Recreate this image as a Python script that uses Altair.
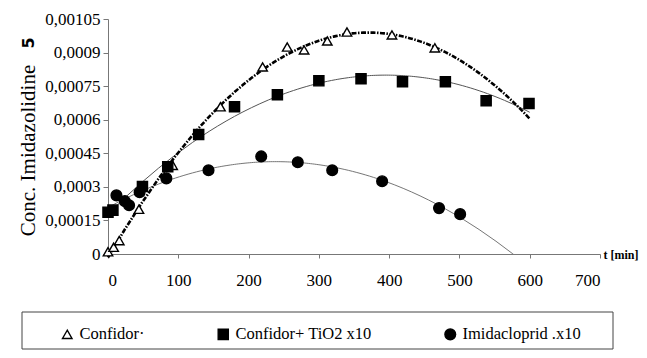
import altair as alt
import pandas as pd

# ---- data ----
series_names = ["Confidor·", "Confidor+ TiO2 x10", "Imidacloprid .x10"]

confidor_t = [0, 8, 16, 44, 92, 160, 220, 255, 279, 312, 340, 404, 465]
confidor_c = [0.00001, 0.00003, 0.00006, 0.0002, 0.000396, 0.000658, 0.000836,
              0.000925, 0.000912, 0.000952, 0.000992, 0.000979, 0.000921]

tio2_t = [0, 7, 49, 85, 129, 180, 241, 300, 360, 419, 480, 538, 599]
tio2_c = [0.000187, 0.000196, 0.000302, 0.00039, 0.000534, 0.000658, 0.000712,
          0.000774, 0.000783, 0.00077, 0.00077, 0.000685, 0.000672]

imid_t = [12, 24, 30, 45, 83, 143, 218, 270, 319, 390, 471, 501]
imid_c = [0.000262, 0.000236, 0.000218, 0.000276, 0.000338, 0.000374, 0.000436,
          0.00041, 0.000374, 0.000325, 0.000205, 0.000178]

y_ticks = [0, 0.00015, 0.0003, 0.00045, 0.0006, 0.00075, 0.0009, 0.00105]
x_ticks = [0, 100, 200, 300, 400, 500, 600, 700]

rows = []
for name, ts, cs in zip(series_names, [confidor_t, tio2_t, imid_t], [confidor_c, tio2_c, imid_c]):
    for t, c in zip(ts, cs):
        rows.append({"series": name, "t": t, "c": c})
df = pd.DataFrame(rows)

FONT = "Times New Roman, Liberation Serif, serif"
W, H = 492, 235

xscale = alt.Scale(domain=[0, 700], nice=False)
yscale = alt.Scale(domain=[0, 0.00105], nice=False)

x_axis = alt.Axis(
    values=x_ticks, title="t [min]", grid=False, domainColor="#777", tickColor="#777",
    tickSize=4, labelPadding=14, labelFont=FONT, labelFontSize=17, labelColor="black",
    labelOverlap=False,
    titleFont=FONT, titleFontSize=12, titleFontWeight="bold", titleColor="black",
    titleX=W + 3, titleY=0, titleAlign="left", titleBaseline="middle", titleAngle=0)
y_axis = alt.Axis(
    values=y_ticks, title="Conc. Imidazolidine", grid=False, domainColor="#777",
    tickColor="#777", tickSize=5, labelPadding=3, labelFont=FONT, labelFontSize=17,
    labelColor="black", labelOverlap=False,
    labelExpr="replace(toString(datum.value), '.', ',')",
    titleFont=FONT, titleFontSize=21, titleFontWeight="normal", titleColor="black",
    titleX=-80, titleY=131, titleAngle=-90, titleAlign="center", titleBaseline="middle")

x_enc = alt.X("t:Q", scale=xscale, axis=x_axis)
y_enc = alt.Y("c:Q", scale=yscale, axis=y_axis)

base = alt.Chart(df)


def trend(name, color, width, dash, clip=False):
    mark_kwargs = dict(color=color, strokeWidth=width, clip=clip)
    if dash:
        mark_kwargs["strokeDash"] = dash
    return base.transform_filter(alt.datum.series == name).transform_regression(
        "t", "c", method="poly", order=2, extent=[0, 600]
    ).mark_line(**mark_kwargs).encode(x=x_enc, y=y_enc)


line_conf = trend(series_names[0], "black", 2.6, [5, 1.5, 1.5, 1.5])
line_tio2 = trend(series_names[1], "#555", 1.0, None)
line_imid = trend(series_names[2], "#666", 0.9, None, clip=True)

leg = alt.Legend(title=None, orient="none", legendX=-49, legendY=307,
                 direction="horizontal", columnPadding=70,
                 labelFont=FONT, labelFontSize=16.5, labelColor="black", labelOffset=4)

points = base.mark_point(filled=True, strokeWidth=1.4, opacity=1).encode(
    x=x_enc, y=y_enc,
    shape=alt.Shape("series:N", scale=alt.Scale(domain=series_names,
                    range=["triangle-up", "square", "circle"]), legend=leg),
    fill=alt.Fill("series:N", scale=alt.Scale(domain=series_names,
                  range=["white", "black", "black"]), legend=leg),
    stroke=alt.Stroke("series:N", scale=alt.Scale(domain=series_names,
                      range=["black", "black", "black"]), legend=leg),
    size=alt.Size("series:N", scale=alt.Scale(domain=series_names, range=[90, 115, 115]),
                  legend=leg),
)

five = alt.Chart(pd.DataFrame({"lab": ["5"]})).mark_text(
    font="DejaVu Sans", fontSize=16, fontWeight="bold", angle=270, color="black",
    baseline="middle", align="center").encode(
    text="lab:N", x=alt.value(-79), y=alt.value(24))

box = alt.Chart(pd.DataFrame({"k": [0]})).mark_rect(
    fill="transparent", stroke="#444", strokeWidth=1).encode(
    x=alt.value(-86), x2=alt.value(505), y=alt.value(293), y2=alt.value(330))

chart = alt.layer(line_imid, line_tio2, line_conf, points, five, box).properties(
    width=W, height=H,
    autosize=alt.AutoSizeParams(type="none"),
    padding={"left": 100, "top": 11, "right": 39, "bottom": 96},
).configure(background="white", font=FONT).configure_view(stroke=None).configure_axis(
    labelFont=FONT, titleFont=FONT
).configure_legend(
    symbolStrokeWidth=1.4, labelFont=FONT, labelFontSize=16.5
)

chart.save("out.html", embed_options={"renderer": "svg", "actions": False})
